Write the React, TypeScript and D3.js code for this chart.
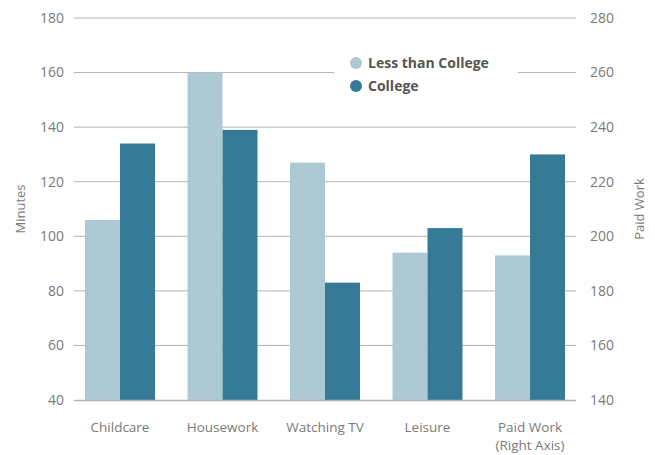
import { useEffect, useRef } from 'react';
import * as d3 from 'd3';

const categories = ['Childcare', 'Housework', 'Watching TV', 'Leisure', 'Paid Work'];
const lessThanCollege = [106, 160, 127, 94, 193];
const college = [134, 139, 83, 103, 230];
const leftTicks = [40, 60, 80, 100, 120, 140, 160, 180];
const rightTicks = [140, 160, 180, 200, 220, 240, 260, 280];
const seriesNames = ['Less than College', 'College'];

const LIGHT = '#adc9d4';
const DARK = '#357a96';
const FONT = '"Open Sans", Lato, sans-serif';

function App() {
  const ref = useRef<SVGSVGElement | null>(null);

  useEffect(() => {
    const width = 655,
      height = 455;
    const svg = d3.select(ref.current);
    svg.selectAll('*').remove();

    const y = d3.scaleLinear().domain([40, 180]).range([400, 18]);
    const yRight = d3.scaleLinear().domain([140, 280]).range([400, 18]);
    const x = d3.scalePoint<string>().domain(categories).range([120, 530]);
    const barW = 35;

    // gridlines
    svg
      .append('g')
      .selectAll('line')
      .data(leftTicks.slice(1))
      .join('line')
      .attr('x1', 74)
      .attr('x2', 576)
      .attr('y1', (d) => y(d))
      .attr('y2', (d) => y(d))
      .attr('stroke', '#b3b3b3')
      .attr('stroke-width', 1);

    // bars
    categories.forEach((c, i) => {
      const sc = i === 4 ? yRight : y;
      const g = svg.append('g');
      g.append('rect')
        .attr('x', x(c)! - barW)
        .attr('y', sc(lessThanCollege[i]))
        .attr('width', barW)
        .attr('height', 400 - sc(lessThanCollege[i]))
        .attr('fill', LIGHT);
      g.append('rect')
        .attr('x', x(c)!)
        .attr('y', sc(college[i]))
        .attr('width', barW)
        .attr('height', 400 - sc(college[i]))
        .attr('fill', DARK);
    });

    // baseline
    svg
      .append('line')
      .attr('x1', 74)
      .attr('x2', 576)
      .attr('y1', 400.5)
      .attr('y2', 400.5)
      .attr('stroke', '#b3b3b3')
      .attr('stroke-width', 1.5);

    const tickText = (sel: any) =>
      sel
        .attr('dy', '0.35em')
        .attr('font-family', FONT)
        .attr('font-size', 14)
        .attr('fill', '#7a7a7a');

    // left ticks
    svg
      .append('g')
      .selectAll('text')
      .data(leftTicks)
      .join('text')
      .attr('x', 64)
      .attr('y', (d) => y(d))
      .attr('text-anchor', 'end')
      .call(tickText)
      .text((d) => d);

    // right ticks
    svg
      .append('g')
      .selectAll('text')
      .data(rightTicks)
      .join('text')
      .attr('x', 590)
      .attr('y', (d) => yRight(d))
      .attr('text-anchor', 'start')
      .call(tickText)
      .text((d) => d);

    // x labels
    const xl = svg.append('g');
    categories.forEach((c, i) => {
      const t = xl
        .append('text')
        .attr('x', x(c)!)
        .attr('y', 432)
        .attr('text-anchor', 'middle')
        .attr('font-family', FONT)
        .attr('font-size', 13.5)
        .attr('fill', '#7a7a7a');
      t.append('tspan').attr('x', x(c)!).text(c);
      if (i === 4) t.append('tspan').attr('x', x(c)!).attr('dy', 18).text('(Right Axis)');
    });

    // axis titles
    svg
      .append('text')
      .attr('transform', `translate(25,${(18 + 400) / 2}) rotate(-90)`)
      .attr('text-anchor', 'middle')
      .attr('font-family', FONT)
      .attr('font-size', 13)
      .attr('fill', '#7a7a7a')
      .text('Minutes');
    svg
      .append('text')
      .attr('transform', `translate(644,${(18 + 400) / 2}) rotate(-90)`)
      .attr('text-anchor', 'middle')
      .attr('font-family', FONT)
      .attr('font-size', 13)
      .attr('fill', '#7a7a7a')
      .text('Paid Work');

    // legend
    const lg = svg.append('g');
    lg.append('rect').attr('x', 334).attr('y', 50).attr('width', 184).attr('height', 50).attr('fill', '#fff');
    seriesNames.forEach((n, i) => {
      lg.append('circle')
        .attr('cx', 356)
        .attr('cy', 63 + i * 23)
        .attr('r', 6)
        .attr('fill', i === 0 ? LIGHT : DARK);
      lg.append('text')
        .attr('x', 368)
        .attr('y', 63 + i * 23)
        .attr('dy', '0.35em')
        .attr('font-family', FONT)
        .attr('font-size', 14)
        .attr('font-weight', 'bold')
        .attr('fill', '#555')
        .text(n);
    });

    svg.attr('width', width).attr('height', height);
  }, []);

  return (
    <svg
      ref={ref}
      width={655}
      height={455}
      style={{ position: 'absolute', left: 0, top: 0, background: '#fff' }}
    />
  );
}

export default App;
